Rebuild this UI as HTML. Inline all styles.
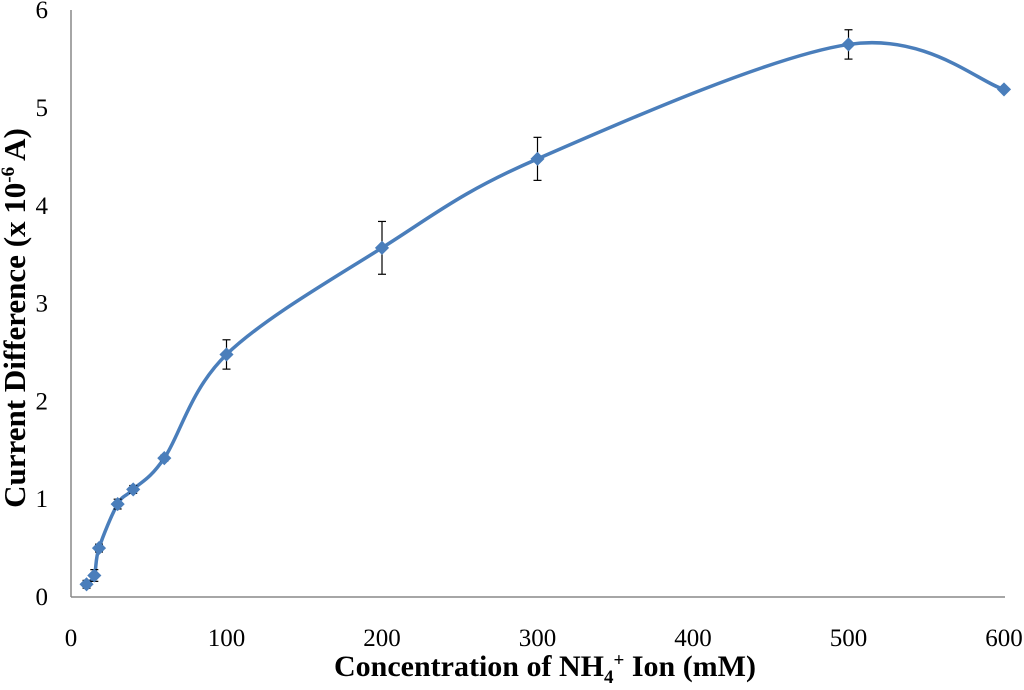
<!DOCTYPE html>
<html><head><meta charset="utf-8"><style>
body{margin:0;background:#fff}
svg{display:block;font-family:"Liberation Serif",serif}
</style></head><body>
<svg id="chart" width="1024" height="690">
<line x1="71" y1="10" x2="71" y2="597" stroke="#888" stroke-width="1.5"/>
<line x1="71" y1="597" x2="1005" y2="597" stroke="#888" stroke-width="1.5"/>
<g id="ticks"></g>
<g id="series"></g>
<text x="545" y="676" font-size="30" font-weight="bold" text-anchor="middle">Concentration of NH<tspan font-size="19" dy="7">4</tspan><tspan font-size="19" dy="-17">+</tspan><tspan dy="10"> Ion (mM)</tspan></text>
<text transform="translate(25,318) rotate(-90)" font-size="31" font-weight="bold" text-anchor="middle">Current Difference (x 10<tspan font-size="19" dy="-11">-6</tspan><tspan dy="11"> A)</tspan></text>
</svg>
<script>
const xs=[10,15,18,30,40,60,100,200,300,500,600];
const ys=[0.13,0.22,0.5,0.95,1.1,1.42,2.48,3.57,4.48,5.65,5.19];
const errs=[0.04,0.06,0.04,0.05,0.04,0.03,0.15,0.27,0.22,0.15,0.02];
const xTicks=[0,100,200,300,400,500,600];
const yTicks=[0,1,2,3,4,5,6];
const NS="http://www.w3.org/2000/svg";
const X=v=>71+v*1.555, Y=v=>597-v*97.8;
const tg=document.getElementById('ticks'), sg=document.getElementById('series');
function mk(t,a,p){const e=document.createElementNS(NS,t);for(const k in a)e.setAttribute(k,a[k]);p.appendChild(e);return e;}
xTicks.forEach(v=>{const e=mk('text',{x:X(v),y:646,'font-size':25,'text-anchor':'middle'},tg);e.textContent=v;

});
yTicks.forEach(v=>{const e=mk('text',{x:48,y:Y(v)+8,'font-size':25,'text-anchor':'end'},tg);e.textContent=v;

});
const P=xs.map((x,i)=>[X(x),Y(ys[i])]);
let d=`M${P[0][0]},${P[0][1]}`;
for(let i=0;i<P.length-1;i++){const p0=P[Math.max(i-1,0)],p1=P[i],p2=P[i+1],p3=P[Math.min(i+2,P.length-1)];
d+=` C${p1[0]+(p2[0]-p0[0])/6},${p1[1]+(p2[1]-p0[1])/6} ${p2[0]-(p3[0]-p1[0])/6},${p2[1]-(p3[1]-p1[1])/6} ${p2[0]},${p2[1]}`;}
const path=mk('path',{d:d,fill:'none',stroke:'#4a7ebb',"stroke-width":3.5},sg);


P.forEach((p,i)=>{const e=errs[i];
const g=mk('g',{},sg);


const y1=Y(ys[i]+e),y2=Y(ys[i]-e);
mk('line',{x1:p[0],x2:p[0],y1:y1,y2:y2,stroke:'#000','stroke-width':1.2},g);
mk('line',{x1:p[0]-4,x2:p[0]+4,y1:y1,y2:y1,stroke:'#000','stroke-width':1.2},g);
mk('line',{x1:p[0]-4,x2:p[0]+4,y1:y2,y2:y2,stroke:'#000','stroke-width':1.2},g);
const m=mk('rect',{x:p[0]-5,y:p[1]-5,width:10,height:10,fill:'#4a7ebb',transform:`rotate(45 ${p[0]} ${p[1]})`},sg);

});
</script>
</body></html>
